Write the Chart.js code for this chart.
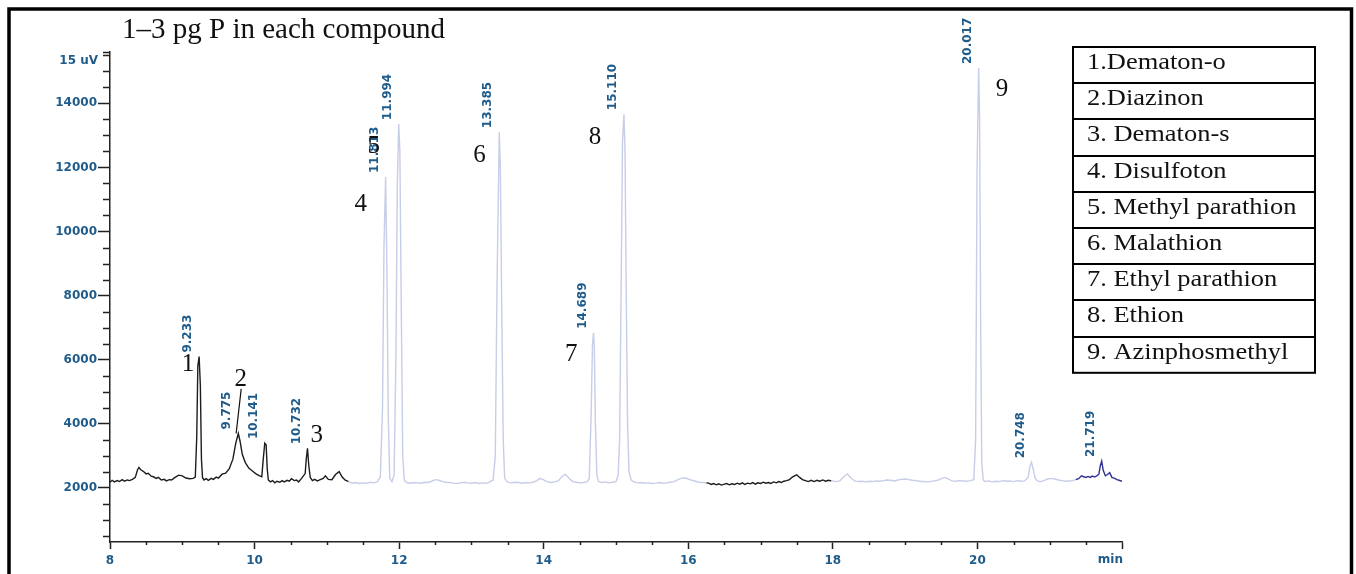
<!DOCTYPE html>
<html>
<head>
<meta charset="utf-8">
<script src="https://cdn.jsdelivr.net/npm/chart.js@4.4.1/dist/chart.umd.min.js"></script>
<style>
  body { margin: 0; background: #fff; }
  #wrap { width: 1356px; height: 574px; }
</style>
</head>
<body>
<div id="wrap"><canvas id="chromChart" width="1356" height="574"></canvas></div>
<script>
// retention time (min) and detector signal (uV)
const times = [
  8.00, 8.03, 8.06, 8.10, 8.13, 8.17, 8.20, 8.24, 8.27, 8.31, 8.35, 8.38, 8.40, 8.43, 8.46, 8.50, 8.53, 8.57, 8.60, 8.64,
  8.67, 8.71, 8.75, 8.78, 8.82, 8.85, 8.90, 8.95, 9.00, 9.05, 9.10, 9.15, 9.18, 9.20, 9.215, 9.233, 9.25, 9.265, 9.28, 9.30,
  9.33, 9.36, 9.40, 9.43, 9.47, 9.50, 9.55, 9.60, 9.65, 9.70, 9.74, 9.775, 9.80, 9.83, 9.87, 9.92, 9.97, 10.02, 10.07, 10.10,
  10.12, 10.141, 10.16, 10.175, 10.19, 10.22, 10.25, 10.28, 10.31, 10.35, 10.38, 10.41, 10.45, 10.48, 10.51, 10.55, 10.58, 10.61, 10.65, 10.70,
  10.715, 10.732, 10.75, 10.77, 10.80, 10.83, 10.87, 10.90, 10.95, 10.98, 11.02, 11.07, 11.12, 11.17, 11.21, 11.25, 11.30,
  11.35, 11.40, 11.45, 11.50, 11.55, 11.60, 11.65, 11.70, 11.74, 11.77, 11.79, 11.813, 11.83, 11.85, 11.87, 11.90, 11.93, 11.955, 11.975, 11.994,
  12.01, 12.03, 12.05, 12.07, 12.10, 12.15, 12.20, 12.25, 12.30, 12.35, 12.40, 12.45, 12.50, 12.55, 12.60, 12.65, 12.70, 12.75, 12.80, 12.85,
  12.90, 12.95, 13.00, 13.05, 13.10, 13.15, 13.20, 13.25, 13.30, 13.33, 13.355, 13.385, 13.40, 13.42, 13.44, 13.46, 13.50, 13.55, 13.60, 13.65,
  13.70, 13.75, 13.80, 13.85, 13.90, 13.95, 14.00, 14.05, 14.10, 14.15, 14.20, 14.25, 14.30, 14.35, 14.40, 14.45, 14.50, 14.55, 14.60, 14.63,
  14.655, 14.675, 14.689, 14.70, 14.715, 14.735, 14.76, 14.80, 14.85, 14.90, 14.95, 15.00, 15.03, 15.05, 15.07, 15.09, 15.11, 15.125, 15.14, 15.16,
  15.18, 15.21, 15.25, 15.30, 15.35, 15.40, 15.45, 15.50, 15.55, 15.60, 15.65, 15.70, 15.75, 15.80, 15.85, 15.90, 15.95, 16.00, 16.05, 16.10,
  16.15, 16.20, 16.25,
  16.28, 16.32, 16.35, 16.39, 16.42, 16.46, 16.50, 16.53, 16.57, 16.60, 16.64, 16.68, 16.71, 16.75, 16.78, 16.82, 16.86, 16.89, 16.93, 16.96,
  17.00, 17.04, 17.07, 17.11, 17.14, 17.18, 17.22, 17.25, 17.29, 17.32, 17.36, 17.40, 17.44, 17.47, 17.50, 17.54, 17.58, 17.62, 17.66, 17.70,
  17.74, 17.78, 17.82, 17.86, 17.90, 17.94, 17.98,
  18.05, 18.10, 18.15, 18.20, 18.25, 18.30, 18.35, 18.40, 18.45, 18.50, 18.55, 18.60, 18.65, 18.70, 18.75, 18.80, 18.85, 18.90, 18.95, 19.00,
  19.05, 19.10, 19.15, 19.20, 19.25, 19.30, 19.35, 19.40, 19.45, 19.50, 19.55, 19.60, 19.65, 19.70, 19.75, 19.80, 19.85, 19.90, 19.95, 19.975,
  19.995, 20.017, 20.03, 20.045, 20.06, 20.08, 20.10, 20.15, 20.20, 20.25, 20.30, 20.35, 20.40, 20.45, 20.50, 20.55, 20.60, 20.65, 20.70, 20.73,
  20.748, 20.77, 20.80, 20.83, 20.87, 20.92, 20.97, 21.02, 21.07, 21.12, 21.17, 21.22, 21.27, 21.32,
  21.36, 21.40, 21.44, 21.47, 21.50, 21.53, 21.56, 21.59, 21.62, 21.65, 21.68, 21.70, 21.719, 21.74, 21.77, 21.80, 21.83, 21.86, 21.90, 21.93,
  21.96, 22.00
];
const signal = [
  2180, 2240, 2190, 2230, 2200, 2260, 2210, 2250, 2230, 2270, 2330, 2560, 2640, 2560, 2520, 2440, 2460, 2370, 2350, 2300,
  2330, 2250, 2270, 2220, 2260, 2250, 2330, 2400, 2380, 2310, 2290, 2300, 2340, 3600, 5800, 6100, 5200, 2900, 2320, 2250,
  2290, 2240, 2300, 2270, 2340, 2310, 2430, 2460, 2600, 2900, 3400, 3700, 3450, 3050, 2800, 2620, 2530, 2440, 2380, 2350,
  2900, 3400, 3350, 2600, 2250, 2190, 2230, 2160, 2210, 2180, 2230, 2190, 2240, 2210, 2290, 2230, 2250, 2190, 2300, 2450,
  2900, 3240, 2700, 2330, 2230, 2270, 2220, 2250, 2300, 2380, 2270, 2260, 2420, 2510, 2350, 2250, 2200,
  2150, 2170, 2140, 2160, 2150, 2180, 2160, 2200, 2350, 4500, 9500, 11700, 9000, 4200, 2300, 2200, 2400, 6000, 11500, 13350,
  12500, 7500, 3000, 2250, 2170, 2150, 2170, 2160, 2150, 2180, 2170, 2210, 2260, 2240, 2200, 2180, 2170, 2150, 2140, 2160,
  2180, 2160, 2150, 2170, 2140, 2160, 2150, 2180, 2250, 3000, 8500, 13100, 12000, 7500, 3500, 2300, 2180, 2160, 2180, 2170,
  2150, 2170, 2160, 2180, 2220, 2300, 2250, 2190, 2170, 2190, 2220, 2350, 2430, 2300, 2200, 2180, 2160, 2170, 2190, 2300,
  4200, 6500, 6840, 6400, 4000, 2400, 2200, 2170, 2190, 2160, 2180, 2200, 2400, 3500, 8000, 12800, 13660, 12500, 8500, 4000,
  2500, 2250, 2180, 2160, 2170, 2150, 2160, 2140, 2150, 2170, 2150, 2160, 2180, 2200, 2250, 2300, 2320, 2280, 2240, 2210,
  2180, 2170, 2160,
  2150, 2110, 2140, 2100, 2130, 2090, 2120, 2140, 2100, 2130, 2110, 2150, 2120, 2160, 2110, 2150, 2130, 2170, 2120, 2160,
  2140, 2180, 2150, 2170, 2140, 2190, 2160, 2200, 2170, 2210, 2230, 2260, 2340, 2380, 2410, 2330, 2260, 2230, 2200, 2240,
  2200, 2240, 2210, 2250, 2210, 2240, 2220,
  2200, 2230, 2350, 2440, 2320, 2220, 2200, 2210, 2190, 2210, 2200, 2220, 2210, 2230, 2250, 2240, 2220, 2250, 2270, 2280,
  2260, 2240, 2230, 2210, 2200, 2190, 2200, 2220, 2240, 2290, 2330, 2280, 2220, 2210, 2230, 2220, 2210, 2230, 2260, 3500,
  12000, 15100, 13500, 7000, 2800, 2250, 2200, 2220, 2190, 2210, 2200, 2230, 2210, 2220, 2200, 2230, 2210, 2220, 2320, 2700,
  2800, 2600, 2300, 2220, 2200, 2230, 2280, 2300, 2280, 2250, 2230, 2210, 2220, 2230,
  2260, 2290, 2380, 2350, 2330, 2360, 2330, 2370, 2340, 2380, 2430, 2700, 2840, 2550, 2380, 2420, 2480, 2330, 2300, 2260,
  2240, 2210
];

// trace colour changes (segment ends in min)
const traceBreaks = [11.30, 16.25, 17.98, 21.33, 22.00];
const traceColors = ['#1d1d1d', '#c8cde8', '#1d1d1d', '#c8cde8', '#2e3192'];

// integrated peaks
const peakTimes = [9.233, 9.775, 10.141, 10.732, 11.813, 11.994, 13.385, 14.689, 15.11, 20.017, 20.748, 21.719];
const peakLabels = ['9.233', '9.775', '10.141', '10.732', '11.813', '11.994', '13.385', '14.689', '15.110', '20.017', '20.748', '21.719'];

// compound numbers (placed in data units)
const compoundNumbers = ['1', '2', '3', '4', '5', '6', '7', '8', '9'];
const compoundX = [9.08, 9.81, 10.86, 11.47, 11.65, 13.11, 14.38, 14.71, 20.34];
const compoundY = [5840, 5400, 3650, 10830, 12640, 12360, 6180, 12950, 14420];
const compoundNames = ['1.Dematon-o', '2.Diazinon', '3. Dematon-s', '4. Disulfoton', '5. Methyl parathion',
  '6. Malathion', '7. Ethyl parathion', '8. Ethion', '9. Azinphosmethyl'];

const xTicks = [8, 10, 12, 14, 16, 18, 20, 22];
const yTicks = [2000, 4000, 6000, 8000, 10000, 12000, 14000];

const BLUE = '#1f5c8b';
const INK = '#222';

function colorAt(t) {
  for (let i = 0; i < traceBreaks.length; i++) {
    if (t < traceBreaks[i]) return traceColors[i];
  }
  return traceColors[traceColors.length - 1];
}

const extras = {
  id: 'extras',
  afterDraw(chart) {
    const ctx = chart.ctx;
    const xs = chart.scales.x, ys = chart.scales.y;
    const area = chart.chartArea;
    ctx.save();

    // outer frame
    ctx.strokeStyle = '#000';
    ctx.lineWidth = 3.5;
    ctx.strokeRect(9, 9, 1342.5, 700);

    // title
    ctx.fillStyle = '#111';
    ctx.font = '29px "Liberation Serif"';
    ctx.textAlign = 'left';
    ctx.textBaseline = 'alphabetic';
    ctx.fillText('1\u20133 pg P in each compound', 122, 38);

    // minor ticks
    ctx.strokeStyle = INK;
    ctx.lineWidth = 1.5;
    ctx.beginPath();
    for (let v = 500; v <= 15500; v += 500) {
      if (yTicks.includes(v)) continue;
      const py = Math.round(ys.getPixelForValue(v)) + 0.5;
      ctx.moveTo(area.left - 7, py);
      ctx.lineTo(area.left, py);
    }
    const topY = area.top + 0.5;
    ctx.moveTo(area.left - 7, topY);
    ctx.lineTo(area.left, topY);
    for (let v = 8.5; v < 22; v += 0.5) {
      if (xTicks.includes(v)) continue;
      const px = Math.round(xs.getPixelForValue(v)) + 0.5;
      ctx.moveTo(px, area.bottom);
      ctx.lineTo(px, area.bottom + 3);
    }
    ctx.stroke();

    // unit labels
    ctx.fillStyle = BLUE;
    ctx.font = 'bold 12px "DejaVu Sans"';
    ctx.textAlign = 'right';
    ctx.textBaseline = 'middle';
    ctx.fillText('15 uV', area.left - 12, area.top + 9);
    ctx.textBaseline = 'top';
    ctx.fillText('min', area.right + 1, area.bottom + 12);

    // retention time labels
    ctx.font = 'bold 12px "DejaVu Sans"';
    ctx.textAlign = 'left';
    ctx.textBaseline = 'middle';
    peakTimes.forEach((t, i) => {
      const top = signal[times.indexOf(t)];
      const px = xs.getPixelForValue(t) - 11;
      const py = ys.getPixelForValue(top) - 4;
      ctx.save();
      ctx.translate(px, py);
      ctx.rotate(-Math.PI / 2);
      ctx.fillText(peakLabels[i], 0, 0);
      ctx.restore();
    });

    // compound numbers
    ctx.fillStyle = '#111';
    ctx.font = '25px "Liberation Serif"';
    ctx.textAlign = 'center';
    compoundNumbers.forEach((n, i) => {
      ctx.fillText(n, xs.getPixelForValue(compoundX[i]), ys.getPixelForValue(compoundY[i]));
    });
    // leader from "2" to its peak
    ctx.strokeStyle = '#111';
    ctx.lineWidth = 1.2;
    ctx.beginPath();
    ctx.moveTo(xs.getPixelForValue(9.815), ys.getPixelForValue(5090));
    ctx.lineTo(xs.getPixelForValue(9.745), ys.getPixelForValue(3700));
    ctx.stroke();

    // compound table
    const bx = 1073, by = 47, bw = 242, rowH = 36.2;
    ctx.strokeStyle = '#000';
    ctx.lineWidth = 2;
    ctx.strokeRect(bx, by, bw, rowH * compoundNames.length);
    ctx.beginPath();
    for (let i = 1; i < compoundNames.length; i++) {
      const ry = Math.round(by + rowH * i);
      ctx.moveTo(bx, ry);
      ctx.lineTo(bx + bw, ry);
    }
    ctx.stroke();
    ctx.fillStyle = '#111';
    ctx.font = '23px "Liberation Serif"';
    ctx.textAlign = 'left';
    ctx.textBaseline = 'alphabetic';
    compoundNames.forEach((name, i) => {
      ctx.save();
      ctx.translate(bx + 14, by + rowH * i + 22);
      ctx.scale(1.15, 1);
      ctx.fillText(name, 0, 0);
      ctx.restore();
    });

    ctx.restore();
  }
};

const points = times.map((t, i) => ({ x: t, y: signal[i] }));

new Chart(document.getElementById('chromChart'), {
  type: 'line',
  data: {
    datasets: [{
      data: points,
      borderWidth: 1.4,
      pointRadius: 0,
      tension: 0,
      borderColor: traceColors[0],
      segment: { borderColor: c => colorAt(c.p0.parsed.x) }
    }]
  },
  options: {
    responsive: false,
    animation: false,
    layout: { padding: { left: 0, top: 52, right: 234, bottom: 0 } },
    plugins: { legend: { display: false }, tooltip: { enabled: false } },
    scales: {
      x: {
        type: 'linear',
        min: 8,
        max: 22,
        afterBuildTicks: s => { s.ticks = xTicks.map(v => ({ value: v })); },
        afterFit: s => { s.height = 32; },
        ticks: {
          color: BLUE,
          padding: 5,
          maxRotation: 0,
          font: { family: 'DejaVu Sans', size: 12, weight: 'bold' },
          callback: v => (v === 22 ? '' : v)
        },
        grid: { drawOnChartArea: false, drawTicks: true, tickLength: 7, tickColor: INK, tickWidth: 1.5 },
        border: { display: true, color: INK, width: 1.5 }
      },
      y: {
        min: 315,
        max: 15600,
        afterBuildTicks: s => { s.ticks = yTicks.map(v => ({ value: v })); },
        afterFit: s => { s.width = 110; },
        ticks: {
          color: BLUE,
          padding: 1,
          font: { family: 'DejaVu Sans', size: 12, weight: 'bold' },
          callback: v => v
        },
        grid: { drawOnChartArea: false, drawTicks: true, tickLength: 12, tickColor: INK, tickWidth: 1.5 },
        border: { display: true, color: INK, width: 1.5 }
      }
    }
  },
  plugins: [extras]
});
</script>
</body>
</html>
